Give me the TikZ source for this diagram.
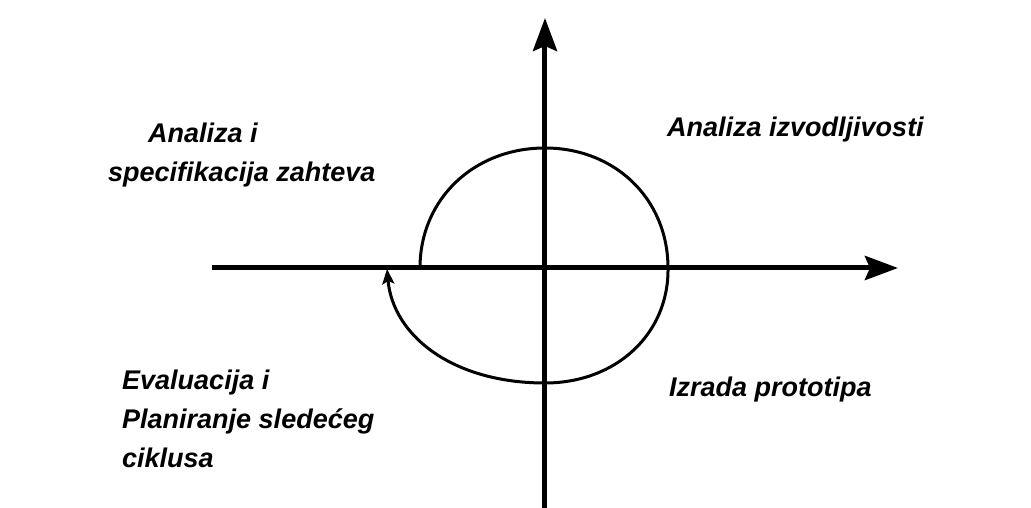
\documentclass[tikz,border=0pt]{standalone}
\usepackage{fontspec}
\setmainfont{Liberation Sans}
\usetikzlibrary{arrows.meta}

\begin{document}
\begin{tikzpicture}[
        x=1pt, y=1pt,
        axis/.style={line width=5pt, -{Stealth[length=33pt, width=24pt, inset=5pt]}},
        loop/.style={line width=3pt, -{Stealth[length=15pt, width=12pt, inset=3pt]}},
        every node/.style={inner sep=0pt, align=left, anchor=base west,
            font=\fontsize{27}{39}\selectfont\bfseries\itshape}
    ]
        \useasboundingbox (-545,-240) rectangle (486,268);

        \coordinate (west) at (-333,0);
        \coordinate (east) at (353,0);
        \coordinate (south) at (0,-240);
        \coordinate (north) at (0,250);
        \coordinate (start) at (-125,0);
        \coordinate (right) at (123,0);
        \coordinate (top) at (0,120);
        \coordinate (bottom) at (0,-115);
        \coordinate (finish) at (-158,-1);

        \draw[axis] (west) -- (east);
        \draw[axis] (south) -- (north);

        \draw[loop] (start) .. controls (-125,69) and (-71,120) .. (top)
            .. controls (70,120) and (123,69) .. (right)
            .. controls (124,-66) and (71,-115) .. (bottom)
            .. controls (-92,-115) and (-152,-68) .. (finish);

        \node (req) at (-437,86) {\hspace*{40pt}Analiza i\\specifikacija zahteva};
        \node (feas) at (122,131) {Analiza izvodljivosti};
        \node (eval) at (-423,-200) {Evaluacija i\\Planiranje sledećeg\\ciklusa};
        \node (proto) at (124,-129) {Izrada prototipa};
    \end{tikzpicture}
\end{document}
